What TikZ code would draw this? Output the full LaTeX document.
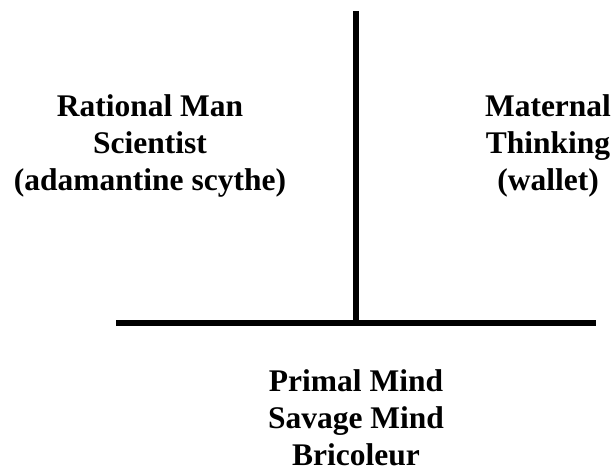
\documentclass[tikz,border=0pt]{standalone}
\usepackage{fontspec}
\setmainfont{Liberation Serif}

\begin{document}
\begin{tikzpicture}[x=1pt, y=1pt,
    mindtext/.style={align=center, font=\fontsize{31.5}{37}\selectfont\bfseries, inner sep=0pt},
    bar/.style={line width=5.8pt}]
    \useasboundingbox (0,0) rectangle (613,472);

    % === Cruz (T invertida) ===
    \coordinate (top)   at (356, 461);
    \coordinate (cross) at (356, 149);
    \coordinate (left)  at (116, 149);
    \coordinate (right) at (596, 149);

    \draw[bar] (top) -- (cross);
    \draw[bar] (left) -- (right);

    % === Arriba izquierda ===
    \node[mindtext] (rational) at (150, 326) {Rational Man\\Scientist\\(adamantine scythe)};

    % === Arriba derecha ===
    \node[mindtext] (maternal) at (548, 326) {Maternal\\Thinking\\(wallet)};

    % === Abajo ===
    \node[mindtext] (primal) at (356, 54) {Primal Mind\\Savage Mind\\Bricoleur};

\end{tikzpicture}
\end{document}
